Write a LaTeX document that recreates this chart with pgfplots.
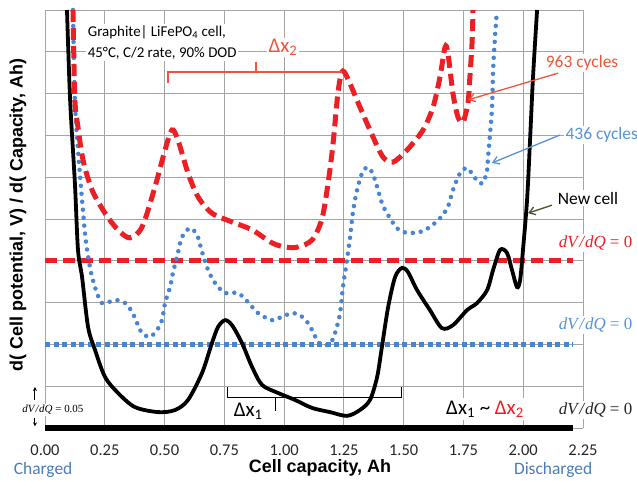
\documentclass[border=0pt]{standalone}
\usepackage{pgfplots}
\pgfplotsset{compat=1.18}
\usepackage{fontspec}
\setmainfont{Carlito}
\newfontfamily\arial{Liberation Sans}
\newfontfamily\tnr{Liberation Serif}
\usetikzlibrary{arrows.meta}

\definecolor{cRed}{RGB}{236,32,36}
\definecolor{cBlue}{RGB}{72,132,212}
\definecolor{lRed}{RGB}{240,84,56}
\definecolor{lBlue}{RGB}{86,146,216}
\definecolor{gridc}{RGB}{165,165,165}
\definecolor{olive}{RGB}{80,80,50}
\newcommand{\dvdq}[1]{{\tnr\itshape dV\kern0.1em/\kern0.05em dQ\/\upshape{} = #1}}

\begin{document}
\begin{tikzpicture}
\useasboundingbox (-45bp,-53bp) rectangle (592bp,428bp);
\begin{axis}[
    at={(0,0)}, anchor=south west,
    width=538bp, height=418bp, scale only axis,
    xmin=0, xmax=2.25, ymin=0, ymax=10,
    xtick={0,0.25,0.5,0.75,1,1.25,1.5,1.75,2,2.25},
    xticklabels={0.00,0.25,0.50,0.75,1.00,1.25,1.50,1.75,2.00,2.25},
    ytick={0,1,2,3,4,5,6,7,8,9,10},
    yticklabels={},
    grid=major,
    major grid style={color=gridc, line width=0.9bp},
    axis line style={draw=none},
    tick style={draw=none},
    xticklabel style={font=\fontsize{16.5}{18}\selectfont, text=black!85, yshift=-13bp},
    clip=false,
]

% ---------------- dV/dQ = 0 reference lines ----------------
\addplot[black, line width=6bp] coordinates {(0,0) (2.21,0)};
\addplot[cRed, line width=5bp, dash pattern=on 12bp off 6bp] coordinates {(0,4) (2.21,4)};
\addplot[cBlue, line width=5bp, dash pattern=on 5bp off 3.5bp] coordinates {(0,2) (2.21,2)};

% ---------------- 436 cycles ----------------
\addplot[cBlue, line width=4.5bp, line cap=round, dash pattern=on 0bp off 8bp, smooth, tension=0.5]
coordinates {
    (0.117,10) (0.125,7.85) (0.138,6.65) (0.155,5.45) (0.167,4.67) (0.176,4.26)
    (0.188,3.85) (0.197,3.61) (0.217,3.23) (0.238,2.99) (0.263,3.01) (0.301,3.06)
    (0.335,2.99) (0.364,2.78) (0.385,2.51) (0.406,2.27) (0.439,2.18) (0.468,2.34)
    (0.489,2.58) (0.502,2.99) (0.523,3.37) (0.535,3.71) (0.556,4.19) (0.573,4.57)
    (0.606,4.78) (0.636,4.62) (0.657,4.21) (0.682,3.78) (0.711,3.47) (0.753,3.23)
    (0.807,3.23) (0.849,3.01) (0.891,2.75) (0.949,2.58) (0.991,2.66) (1.033,2.75)
    (1.066,2.70) (1.096,2.54) (1.117,2.34) (1.142,2.06) (1.163,1.99) (1.192,2.01)
    (1.213,2.27) (1.234,2.75) (1.246,3.37) (1.263,4.02) (1.276,4.57) (1.288,5.17)
    (1.305,5.69) (1.326,6.10) (1.347,6.24) (1.368,6.12) (1.389,5.77) (1.409,5.38)
    (1.430,5.14) (1.472,4.78) (1.514,4.67) (1.568,4.69) (1.610,4.81) (1.652,5.02)
    (1.685,5.29) (1.706,5.69) (1.736,6.10) (1.765,6.22) (1.790,6.05) (1.811,5.89)
    (1.832,5.86) (1.849,6.17) (1.853,6.48) (1.869,7.61) (1.874,8.56) (1.882,9.35)
    (1.890,10)
};

% ---------------- 963 cycles ----------------
\addplot[cRed, line width=5bp, dash pattern=on 12bp off 6bp, smooth, tension=0.5]
coordinates {
    (0.117,10) (0.125,7.85) (0.138,7.20) (0.159,6.41) (0.197,5.69) (0.251,5.14)
    (0.305,4.74) (0.355,4.55) (0.406,4.81) (0.460,5.77) (0.502,6.65) (0.531,7.13)
    (0.556,6.89) (0.598,6.10) (0.640,5.53) (0.698,5.14) (0.782,4.93) (0.866,4.74)
    (0.949,4.43) (1.004,4.33) (1.058,4.33) (1.117,4.50) (1.158,5.00) (1.185,5.90)
    (1.205,6.82) (1.225,8.01) (1.242,8.52) (1.263,8.40) (1.317,7.68) (1.372,6.96)
    (1.414,6.48) (1.455,6.36) (1.514,6.65) (1.581,7.13) (1.623,7.68) (1.652,8.40)
    (1.673,9.11) (1.685,8.97) (1.706,8.01) (1.727,7.44) (1.748,7.32) (1.769,7.78)
    (1.777,8.40) (1.786,9.21) (1.790,10)
};

% ---------------- New cell ----------------
\addplot[black, line width=3.8bp, smooth, tension=0.5]
coordinates {
    (0.092,10) (0.105,7.85) (0.125,5.86) (0.138,4.26) (0.155,3.61) (0.180,2.42)
    (0.209,1.87) (0.251,1.22) (0.305,0.84) (0.376,0.50) (0.473,0.38) (0.544,0.43)
    (0.598,0.67) (0.657,1.32) (0.698,2.03) (0.724,2.42) (0.753,2.58) (0.782,2.46)
    (0.824,2.03) (0.866,1.46) (0.908,1.03) (0.974,0.84) (1.046,0.67) (1.117,0.48)
    (1.192,0.38) (1.263,0.29) (1.317,0.43) (1.359,0.67) (1.389,1.22) (1.409,1.94)
    (1.435,2.89) (1.464,3.61) (1.493,3.83) (1.518,3.73) (1.556,3.30) (1.610,2.82)
    (1.660,2.39) (1.706,2.46) (1.765,2.82) (1.807,2.99) (1.849,3.30) (1.874,3.78)
    (1.903,4.26) (1.932,4.19) (1.953,3.78) (1.974,3.37) (1.987,3.54) (1.999,4.26)
    (2.016,5.45) (2.028,6.82) (2.041,8.40) (2.058,10)
};

% ---------------- annotations ----------------
\node[font=\fontsize{15}{21}\selectfont, align=left, fill=white, inner sep=1.5bp, anchor=north west]
    at (axis cs:0.172,9.66) {Graphite\textbar\ LiFePO\textsubscript{4} cell,\\45°C, C/2 rate, 90\% DOD};

\node[font=\fontsize{21}{22}\selectfont, text=lRed, fill=white, inner sep=1.5bp] at (axis cs:0.995,9.10) {Δx\textsubscript{2}};
\draw[lRed, line width=1.3bp] (axis cs:0.514,8.25) -- (axis cs:0.514,8.52) -- (axis cs:1.242,8.52);
\draw[lRed, line width=1.3bp] (axis cs:0.882,8.52) -- (axis cs:0.882,8.76);

\draw[black, line width=1bp] (axis cs:0.765,0.98) -- (axis cs:0.765,0.74) -- (axis cs:1.489,0.74) -- (axis cs:1.489,0.98);
\draw[black, line width=1bp] (axis cs:0.966,0.74) -- (axis cs:0.966,0.41);
\node[font=\fontsize{21}{22}\selectfont] at (axis cs:0.85,0.40) {Δx\textsubscript{1}};

\node[font=\fontsize{21}{22}\selectfont, fill=white, inner xsep=6bp, inner ysep=3bp] at (axis cs:1.84,0.45)
    {Δx\textsubscript{1} \textasciitilde\ \textcolor{cRed}{Δx\textsubscript{2}}};

\node[font=\fontsize{17}{18}\selectfont, text=cRed, fill=white, inner sep=1.5bp, anchor=east] at (axis cs:2.463,4.43) {\dvdq{0}};
\node[font=\fontsize{17}{18}\selectfont, text=lBlue, fill=white, inner sep=1.5bp, anchor=east] at (axis cs:2.463,2.46) {\dvdq{0}};
\node[font=\fontsize{17}{18}\selectfont, text=black!85, fill=white, inner sep=1.5bp, anchor=east] at (axis cs:2.463,0.43) {\dvdq{0}};

\node[font=\fontsize{17.5}{19}\selectfont, text=lRed, fill=white, inner sep=1.5bp] at (axis cs:2.246,8.73) {963 cycles};
\node[font=\fontsize{17.5}{19}\selectfont, text=lBlue, fill=white, inner sep=1.5bp, anchor=west] at (axis cs:2.17,7.01) {436 cycles};
\node[font=\fontsize{17.5}{19}\selectfont, text=black, fill=white, inner sep=1.5bp] at (axis cs:2.271,5.50) {New cell};

\draw[lRed, line width=1.3bp, -{Straight Barb[length=6bp,width=8bp]}] (axis cs:2.146,8.49) -- (axis cs:1.769,7.85);
\draw[lBlue, line width=1.3bp, -{Straight Barb[length=6bp,width=8bp]}] (axis cs:2.154,7.01) -- (axis cs:1.869,6.34);
\draw[olive, line width=1.3bp, -{Straight Barb[length=6bp,width=8bp]}] (axis cs:2.120,5.33) -- (axis cs:2.020,5.14);

\node[font=\fontsize{11}{12}\selectfont, fill=white, inner sep=1bp] at (axis cs:0.033,0.43) {\dvdq{0.05}};
\draw[black, line width=1bp, -{Stealth[length=4bp,width=4bp]}] (axis cs:-0.042,0.67) -- (axis cs:-0.042,0.98);
\draw[black, line width=1bp, -{Stealth[length=4bp,width=4bp]}] (axis cs:-0.042,0.24) -- (axis cs:-0.042,0.04);

\node[font=\arial\bfseries\fontsize{18}{20}\selectfont, rotate=90] at (axis cs:-0.113,5.10)
    {d( Cell potential, V) / d( Capacity, Ah)};
\node[font=\arial\bfseries\fontsize{18}{20}\selectfont] at (axis cs:1.150,-0.96) {Cell capacity, Ah};
\node[font=\fontsize{17.5}{19}\selectfont, text=lBlue!85!black] at (axis cs:-0.008,-1.0) {Charged};
\node[font=\fontsize{17.5}{19}\selectfont, text=lBlue!85!black] at (axis cs:2.125,-1.0) {Discharged};

\end{axis}
\end{tikzpicture}
\end{document}
